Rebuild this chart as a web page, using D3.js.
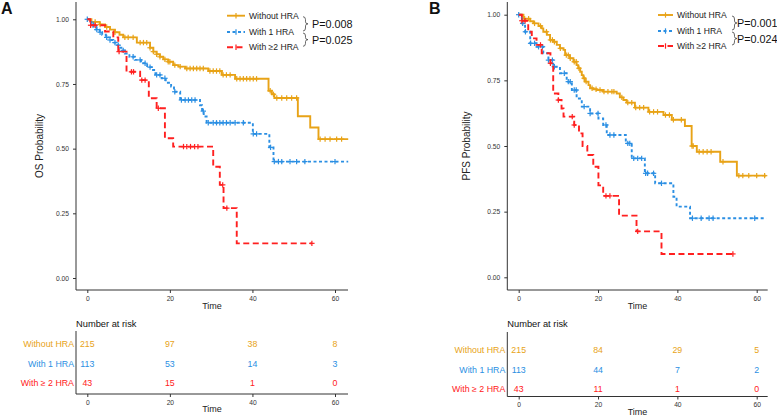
<!DOCTYPE html>
<html><head><meta charset="utf-8">
<script src="https://cdn.jsdelivr.net/npm/d3@7"></script>
<style>body{margin:0;background:#fff}svg{display:block}text{font-family:"Liberation Sans",Arial,sans-serif}</style>
</head><body>
<svg id="c" width="777" height="417"></svg>
<script>
const groups = ["Without HRA","With 1 HRA","With ≥2 HRA"];
const riskLabels = ["Without HRA","With 1 HRA","With ≥ 2 HRA"];
const colors = ["#E8A317","#2B8FE3","#FF2020"];
const dashes = [null,"3,2.5","6,3.5"];
const xTicks = [0,20,40,60];
const yTicks = [0,0.25,0.5,0.75,1];
const riskTimes = [0,20,40,60];

// Panel A (OS)
const osWithout = [[0,1],[1,0.99],[3,0.98],[4.3,0.97],[5.5,0.96],[6.7,0.95],[7.8,0.94],[8.7,0.93],[12,0.91],[15.2,0.89],[16,0.875],[16.8,0.865],[17.6,0.855],[18.4,0.845],[19.6,0.836],[20.8,0.823],[22.1,0.817],[23.7,0.81],[29.3,0.80],[32.6,0.785],[35.8,0.77],[43.9,0.724],[44.7,0.71],[45.3,0.696],[51,0.625],[54,0.582],[56,0.537]];
const osWith1 = [[0,1],[0.5,0.99],[1,0.98],[1.5,0.97],[2.2,0.96],[3,0.95],[3.6,0.94],[4.5,0.93],[5.5,0.92],[6.3,0.91],[7,0.90],[7.8,0.89],[8.5,0.88],[9.1,0.868],[10.2,0.855],[11.5,0.843],[13,0.83],[14.5,0.815],[15.6,0.804],[16.5,0.785],[18,0.772],[19,0.755],[20.3,0.74],[21,0.72],[22.5,0.688],[27.3,0.668],[27.8,0.645],[28.2,0.624],[28.9,0.60],[40.1,0.557],[44.1,0.505],[45.1,0.45]];
const osWith2 = [[0,1],[0.7,0.977],[4.3,0.953],[6.3,0.93],[7.5,0.875],[9.5,0.797],[12.8,0.765],[14.9,0.695],[16.8,0.656],[18.8,0.54],[20.8,0.508],[30.5,0.43],[32.1,0.36],[33,0.27],[36.2,0.134]];
const osEnds = [63.2,63.2,54.4];
const osCensWithout = [1.9,3.1,4.7,6.7,9.1,9.9,11.1,12.8,13.6,14.4,15.2,16,16.8,17.6,18.8,19.6,20,21.2,22.5,24.1,24.9,25.7,26.5,27.3,28.1,29.7,30.5,31.3,32.1,32.9,33.7,34.6,36.2,37,37.8,38.6,39.4,40.2,41,44.3,45.1,45.9,47.1,48.3,49.5,50.7,56.4,57.6,58.8,60.4,61.6];
const osCensWith1 = [0,1.45,2.3,3.1,4.7,5.5,6.7,7.5,8.7,11.1,12.8,14,15.2,16.8,17.6,18.8,21.2,22.8,23.7,24.5,25.3,26.1,28.1,29.3,30.5,31.3,32.1,32.9,33.7,34.6,35.8,37.8,40.2,41,44.4,45.3,46.3,47.1,49.1,50.7,52.7,60];
const osCensWith2 = [0.8,1.9,7.7,10.7,11.2,13.2,14,17.2,23.3,24.1,25,26,26.8,32.8,33.8,54.4];
const osRisk = [[215,97,38,8],[113,53,14,3],[43,15,1,0]];
const osP = ["P=0.008","P=0.025"];

// Panel B (PFS)
const pfsWithout = [[0,1],[1.2,0.985],[2.9,0.975],[3.7,0.967],[5,0.957],[5.8,0.948],[6.2,0.935],[7.1,0.923],[7.9,0.904],[8.7,0.897],[9.6,0.885],[10.4,0.872],[11.3,0.866],[11.7,0.846],[12.9,0.834],[13.8,0.821],[14.6,0.808],[15,0.796],[15.5,0.783],[15.9,0.77],[16.3,0.758],[16.7,0.745],[17.6,0.732],[18,0.72],[18.8,0.716],[19.7,0.713],[21.3,0.707],[24.7,0.70],[25.5,0.685],[26.4,0.675],[27.2,0.665],[29.3,0.646],[32.7,0.63],[36.5,0.618],[38.6,0.60],[41.9,0.576],[43.6,0.50],[44.9,0.478],[50.8,0.44],[55,0.387]];
const pfsWith1 = [[0,1],[0.8,0.967],[1.6,0.935],[2.9,0.891],[4.5,0.878],[6.2,0.853],[7.5,0.827],[8.7,0.802],[10.4,0.777],[12.1,0.745],[13.4,0.713],[14.6,0.681],[15.9,0.65],[18,0.624],[20.1,0.605],[21.3,0.58],[22.2,0.542],[27,0.51],[28.5,0.453],[31.8,0.396],[34.4,0.358],[39,0.307],[39.8,0.269],[43.2,0.225]];
const pfsWith2 = [[0,1],[0.8,0.977],[2.4,0.935],[3.3,0.91],[4.5,0.885],[5.8,0.853],[8,0.815],[8.7,0.70],[10,0.675],[10.8,0.643],[11.3,0.612],[14,0.58],[15.2,0.548],[16.1,0.50],[17.3,0.466],[18.8,0.421],[20.1,0.35],[21.3,0.31],[25.3,0.235],[29.7,0.175],[36,0.089]];
const pfsEnds = [62.4,62.4,54.1];
const pfsCensWithout = [1.5,2.5,4,5.5,7,8,8.5,9,10.5,12,12.5,13,14,14.5,15.2,16.5,17,18.5,19.5,20.5,21.5,22.5,23.5,24,26,27.5,28.5,29.5,30.5,31.5,33,34,35,37,38,39,41,43.7,44,45.5,46.5,47.5,48.5,51.5,55.5,56.5,58,60,62];
const pfsCensWith1 = [0,1,1.7,3,4,5,6,7.5,8.5,9,11.5,12.5,13,14,14.5,16.5,18,20,22,23,24,27.5,28,29,30,31,32,32.5,34,36,43.8,46,48,49,59.5];
const pfsCensWith2 = [0.8,1.6,5.5,8,10,13.5,14,22,23,30,54];
const pfsRisk = [[215,84,29,5],[113,44,7,2],[43,11,1,0]];
const pfsP = ["P=0.001","P=0.024"];

const svg = d3.select("#c");

function survAt(steps,t){let s=1;for(const [tt,v] of steps){if(tt<=t+1e-9)s=v;else break;}return s;}

function panel(o){
  const g = svg.append("g");
  const x = d3.scaleLinear().domain([0,60]).range([o.x0,o.x60]);
  const y = d3.scaleLinear().domain([0,1]).range([o.y0,o.y1]);
  g.append("text").attr("x",o.letterX).attr("y",13.5).attr("font-size",16).attr("font-weight","bold").attr("fill","#111").text(o.letter);
  const ax = g.append("g").attr("transform",`translate(${o.axL},0)`).call(d3.axisLeft(y).tickValues(yTicks).tickFormat(d3.format(".2f")).tickSize(3).tickSizeOuter(0));
  ax.select(".domain").attr("d",`M0,${o.axTop}V${o.axBot}`);
  const bx = g.append("g").attr("transform",`translate(0,${o.axBot})`).call(d3.axisBottom(x).tickValues(xTicks).tickSize(3).tickSizeOuter(0));
  bx.select(".domain").attr("d",`M${o.axL},0H${o.axR}`);
  [ax,bx].forEach(a=>{a.selectAll("path,line").attr("stroke","#333").attr("stroke-width",1);a.selectAll("text").attr("font-size",6.7).attr("fill","#333").attr("font-family","Liberation Sans, Arial, sans-serif");});
  ax.selectAll("text").attr("dx",-1);
  g.append("text").attr("x",(o.axL+o.axR)/2).attr("y",309).attr("text-anchor","middle").attr("font-size",9).attr("fill","#222").text("Time");
  g.append("text").attr("transform",`translate(${o.ylabX},${(o.axTop+o.axBot)/2}) rotate(-90)`).attr("text-anchor","middle").attr("font-size",10).attr("fill","#222").text(o.ylab);
  const line = d3.line().x(d=>x(d[0])).y(d=>y(d[1])).curve(d3.curveStepAfter);
  o.steps.forEach((st,i)=>{
    const pts = st.concat([[o.ends[i], st[st.length-1][1]]]);
    g.append("path").attr("d",line(pts)).attr("fill","none").attr("stroke",colors[i]).attr("stroke-width",1.9).attr("stroke-dasharray",dashes[i]);
    const cg = g.append("g").attr("stroke",colors[i]).attr("stroke-width",1.2);
    o.cens[i].forEach(t=>{
      const cx=x(t), cy=y(survAt(st,t));
      cg.append("line").attr("x1",cx-2.7).attr("x2",cx+2.7).attr("y1",cy).attr("y2",cy);
      cg.append("line").attr("x1",cx).attr("x2",cx).attr("y1",cy-2.7).attr("y2",cy+2.7);
    });
  });
  groups.forEach((gname,i)=>{
    const ly = o.legY[i];
    g.append("line").attr("x1",o.legX).attr("x2",o.legX+o.legW).attr("y1",ly).attr("y2",ly).attr("stroke",colors[i]).attr("stroke-width",1.9).attr("stroke-dasharray",dashes[i]);
    const m=o.legX+o.legW/2;
    g.append("line").attr("x1",m).attr("x2",m).attr("y1",ly-2.7).attr("y2",ly+2.7).attr("stroke",colors[i]).attr("stroke-width",1.2);
    g.append("text").attr("x",o.legX+o.legW+4).attr("y",ly+3).attr("font-size",8.6).attr("fill","#222").text(gname);
  });
  [[o.legY[0]+1,o.legY[1]-1],[o.legY[1]+1,o.legY[2]-1]].forEach((b,i)=>{
    const bx0=o.brX, mid=(b[0]+b[1])/2;
    g.append("path").attr("d",`M${bx0},${b[0]} Q${bx0+2.5},${b[0]} ${bx0+2.5},${b[0]+3} L${bx0+2.5},${mid-2} Q${bx0+2.5},${mid} ${bx0+5},${mid} Q${bx0+2.5},${mid} ${bx0+2.5},${mid+2} L${bx0+2.5},${b[1]-3} Q${bx0+2.5},${b[1]} ${bx0},${b[1]}`).attr("fill","none").attr("stroke","#444").attr("stroke-width",0.8);
    g.append("text").attr("x",o.brX+o.pdx).attr("y",mid+4).attr("font-size",10.8).attr("fill","#111").text(o.p[i]);
  });
  const r = o.risk;
  g.append("text").attr("x",o.axL).attr("y",r.titleY).attr("font-size",9.3).attr("fill","#111").text("Number at risk");
  g.append("path").attr("d",`M${o.axL},${r.top}V${r.bot}H${o.axR}`).attr("fill","none").attr("stroke","#333").attr("stroke-width",1);
  const tb = g.append("g").attr("transform",`translate(0,${r.bot})`).call(d3.axisBottom(x).tickValues(xTicks).tickSize(3).tickSizeOuter(0));
  tb.select(".domain").remove();
  tb.selectAll("line").attr("stroke","#333");
  tb.selectAll("text").attr("font-size",6.7).attr("fill","#333").attr("font-family","Liberation Sans, Arial, sans-serif");
  g.append("text").attr("x",(o.axL+o.axR)/2).attr("y",r.bot+18).attr("text-anchor","middle").attr("font-size",9).attr("fill","#222").text("Time");
  o.riskVals.forEach((row,i)=>{
    const ry=r.rows[i];
    g.append("text").attr("x",o.axL-2).attr("y",ry+3.2).attr("text-anchor","end").attr("font-size",8.8).attr("fill",colors[i]).text(riskLabels[i]);
    row.forEach((v,j)=>{
      g.append("text").attr("x",x(riskTimes[j])).attr("y",ry+3.2).attr("text-anchor","middle").attr("font-size",8.8).attr("fill",colors[i]).text(v);
    });
  });
}

panel({letter:"A",letterX:1,x0:87.3,x60:335,y0:278,y1:19.3,axL:76,axR:348,axTop:2,axBot:290,ylabX:43,ylab:"OS Probability",
  steps:[osWithout,osWith1,osWith2],ends:osEnds,cens:[osCensWithout,osCensWith1,osCensWith2],
  legX:227,legW:18,legY:[15.7,32,47.3],brX:303,pdx:9,p:osP,
  risk:{titleY:327,top:331,bot:394,rows:[344,363.3,382.7]},riskVals:osRisk});
panel({letter:"B",letterX:429,x0:518.7,x60:756.7,y0:277.3,y1:14.7,axL:507.3,axR:767.7,axTop:2,axBot:290,ylabX:470,ylab:"PFS Probability",
  steps:[pfsWithout,pfsWith1,pfsWith2],ends:pfsEnds,cens:[pfsCensWithout,pfsCensWith1,pfsCensWith2],
  legX:658,legW:15,legY:[15,31,46],brX:732,pdx:5,p:pfsP,
  risk:{titleY:327,top:332,bot:396.5,rows:[350,369.3,389]},riskVals:pfsRisk});
</script>
</body></html>
